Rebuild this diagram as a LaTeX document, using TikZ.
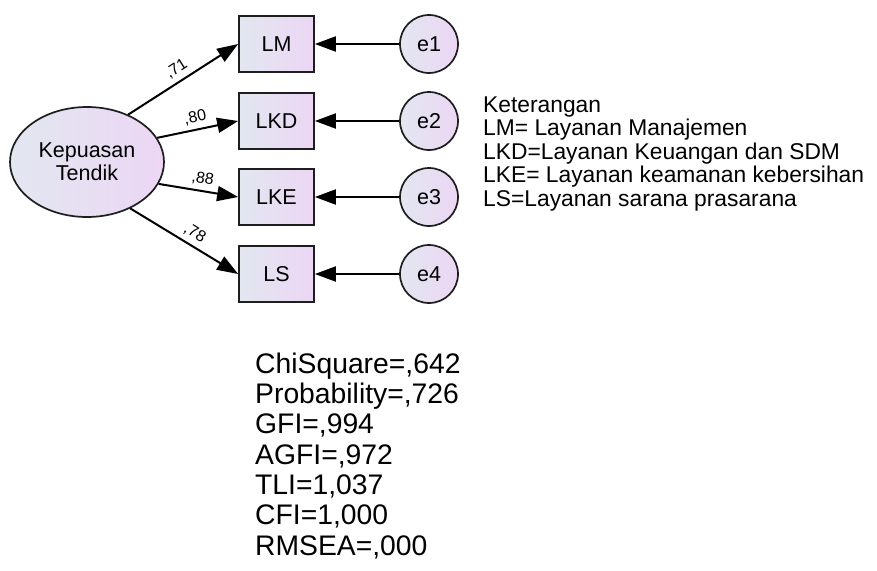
\documentclass[tikz,border=0pt]{standalone}
\usepackage{fontspec}
\setmainfont{Liberation Sans}
\usetikzlibrary{arrows.meta,shapes.geometric}
\definecolor{gA}{RGB}{226,231,240}
\definecolor{gB}{RGB}{236,214,244}
\definecolor{bord}{RGB}{30,30,30}
\tikzset{
  obs/.style={draw=bord, line width=1.7pt, left color=gA, right color=gB,
    minimum width=75pt, minimum height=56pt, inner sep=0pt,
    font=\fontsize{21.5}{23}\selectfont},
  err/.style={circle, draw=bord, line width=1.7pt, left color=gA, right color=gB,
    minimum size=58pt, inner sep=0pt, font=\fontsize{21.5}{23}\selectfont},
  lat/.style={ellipse, draw=bord, line width=1.7pt, left color=gA, right color=gB,
    minimum width=154pt, minimum height=110pt, inner sep=0pt, align=center,
    font=\fontsize{21.5}{23}\selectfont},
  path/.style={line width=2pt, -{Triangle[length=21pt,width=15pt]}},
  coef/.style={sloped, above, inner sep=4.5pt, font=\fontsize{16}{16}\selectfont},
  legend/.style={anchor=base west, inner sep=0pt, font=\fontsize{22.8}{24}\selectfont},
  stat/.style={anchor=base west, inner sep=0pt, font=\fontsize{28.3}{30}\selectfont}
}
\begin{document}
\begin{tikzpicture}[x=1pt,y=-1pt]
\useasboundingbox (0,0) rectangle (877,570);
\fill[white] (0,0) rectangle (877,570);
\node[lat] (K) at (87,162) {Kepuasan\\Tendik};
\node[obs] (LM) at (276.5,44) {LM};
\node[obs] (LKD) at (276.5,121) {LKD};
\node[obs] (LKE) at (276.5,197) {LKE};
\node[obs] (LS) at (276.5,274) {LS};
\node[err] (e1) at (429,44) {e1};
\node[err] (e2) at (429,121) {e2};
\node[err] (e3) at (429,197) {e3};
\node[err] (e4) at (429,274) {e4};
\draw[path] (K.49) -- node[coef, pos=0.5] {,71} (LM.west);
\draw[path] (K.19) -- node[coef, pos=0.5] {,80} (LKD.west);
\draw[path] (K.-17) -- node[coef, pos=0.53] {,88} (LKE.west);
\draw[path] (K.-47) -- node[coef, pos=0.54] {,78} (LS.west);
\draw[path] (e1) -- (LM);
\draw[path] (e2) -- (LKD);
\draw[path] (e3) -- (LKE);
\draw[path] (e4) -- (LS);
\node[legend] (L0) at (483,112) {Keterangan};
\node[legend] (L1) at (483,135.5) {LM= Layanan Manajemen};
\node[legend] (L2) at (483,159) {LKD=Layanan Keuangan dan SDM};
\node[legend] (L3) at (483,182.5) {LKE= Layanan keamanan kebersihan};
\node[legend] (L4) at (483,206) {LS=Layanan sarana prasarana};
\node[stat] (s1) at (255,373) {ChiSquare=,642};
\node[stat] (s2) at (255,403.3) {Probability=,726};
\node[stat] (s3) at (255,433.6) {GFI=,994};
\node[stat] (s4) at (255,464) {AGFI=,972};
\node[stat] (s5) at (255,494.3) {TLI=1,037};
\node[stat] (s6) at (255,524.6) {CFI=1,000};
\node[stat] (s7) at (255,555) {RMSEA=,000};
\end{tikzpicture}
\end{document}
